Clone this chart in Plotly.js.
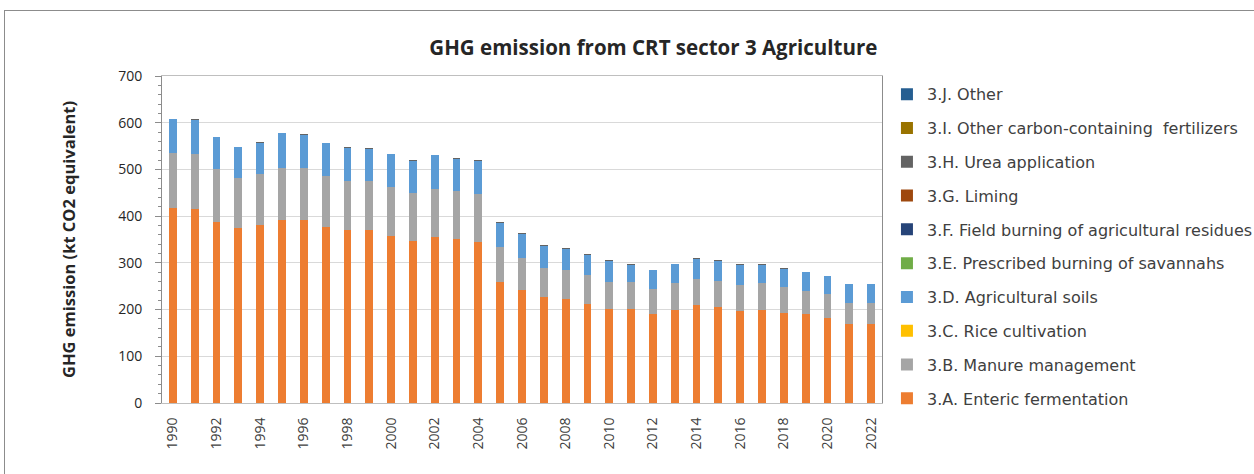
<!DOCTYPE html>
<html><head><meta charset="utf-8">
<script src="https://cdn.plot.ly/plotly-3.0.1.min.js"></script>
<style>
body{margin:0;padding:0;background:#fff;overflow:hidden;}
#chart{position:absolute;left:0;top:0;width:1254px;height:474px;}
#frame{position:absolute;left:4px;top:10px;width:1300px;height:500px;border:1px solid #8c8c8c;pointer-events:none;}
</style></head>
<body>
<div id="chart"></div>
<div id="frame"></div>
<script>
const years = ["1990","1991","1992","1993","1994","1995","1996","1997","1998","1999","2000","2001","2002","2003","2004","2005","2006","2007","2008","2009","2010","2011","2012","2013","2014","2015","2016","2017","2018","2019","2020","2021","2022"];
const tickYears = ["1990","1992","1994","1996","1998","2000","2002","2004","2006","2008","2010","2012","2014","2016","2018","2020","2022"];
const entericFermentation = [417,415,388,375,381,392,391,377,370,370,358,347,355,351,345,258,242,226,223,213,201,202,190,199,210,205,197,199,193,190,183,169,169];
const manureManagement = [118,118,112,107,110,112,112,109,106,106,105,102,103,103,102,75,68,64,62,60,59,56,53,57,56,57,56,57,55,50,50,46,46];
const riceCultivation = [0,0,0,0,0,0,0,0,0,0,0,0,0,0,0,0,0,0,0,0,0,0,0,0,0,0,0,0,0,0,0,0,0];
const agriculturalSoils = [72,73,69,66,66,73,71,70,70,68,69,70,72,69,72,53,52,47,45,44,45,38,41,41,43,43,43,40,39,40,38,39,39];
const savannahBurning = [0,0,0,0,0,0,0,0,0,0,0,0,0,0,0,0,0,0,0,0,0,0,0,0,0,0,0,0,0,0,0,0,0];
const fieldBurning = [0,0,0,0,0,0,0,0,0,0,0,0,0,0,0,0,0,0,0,0,0,0,0,0,0,0,0,0,0,0,0,0,0];
const liming = [0,0,0,0,0,0,0,0,0,0,0,0,0,0,0,0,0,0,0,0,0,0,0,0,0,0,0,0,0,0,0,0,0];
const ureaApplication = [1,1,1,1,1,1,1,1,1,1,1,1,1,1,1,1,1,1,1,1,1,1,1,1,1,1,1,1,1,1,1,1,1];
const otherCarbonFertilizers = [0,0,0,0,0,0,0,0,0,0,0,0,0,0,0,0,0,0,0,0,0,0,0,0,0,0,0,0,0,0,0,0,0];
const otherAgri = [0,0,0,0,0,0,0,0,0,0,0,0,0,0,0,0,0,0,0,0,0,0,0,0,0,0,0,0,0,0,0,0,0];

const seriesNames = ["3.A. Enteric fermentation","3.B. Manure management","3.C. Rice cultivation","3.D. Agricultural soils","3.E. Prescribed burning of savannahs","3.F. Field burning of agricultural residues","3.G. Liming","3.H. Urea application","3.I. Other carbon-containing  fertilizers","3.J. Other"];
const seriesValues = [entericFermentation,manureManagement,riceCultivation,agriculturalSoils,savannahBurning,fieldBurning,liming,ureaApplication,otherCarbonFertilizers,otherAgri];
const seriesColors = ["#ED7D31","#A5A5A5","#FFC000","#5B9BD5","#70AD47","#264478","#9E480E","#636363","#997300","#255E91"];

const traces = seriesNames.map((n,i)=>({
  type:'bar', name:n, x:years, y:seriesValues[i],
  marker:{color:seriesColors[i]}, legendgroup:'g'+i, legendrank:100-i
}));

const fontFam = '"Open Sans", "Noto Sans", sans-serif';
const layout = {
  width:1254, height:474,
  margin:{l:162, r:372, t:76, b:71},
  paper_bgcolor:'rgba(0,0,0,0)', plot_bgcolor:'#fff',
  barmode:'stack', bargap:0.64,
  font:{family:fontFam, color:'#404040', size:13},
  title:{text:'GHG emission from CRT sector 3 Agriculture', font:{family:fontFam, size:20.5, color:'#262626', weight:'bold'}, x:0.521, xref:'container', xanchor:'center', y:0.9, yref:'container', yanchor:'middle'},
  xaxis:{type:'category', tickmode:'array', tickvals:tickYears, ticktext:tickYears, tickangle:-90,
    tickfont:{size:14, color:'#404040'}, showline:true, linecolor:'#bfbfbf', mirror:true, showgrid:false,
    ticks:'', zeroline:false, ticklabelstandoff:8},
  yaxis:{range:[0,700], dtick:100, tickfont:{size:14, color:'#262626'}, showline:true, linecolor:'#8c8c8c', mirror:true,
    gridcolor:'#d9d9d9', ticks:'outside', ticklen:6, tickcolor:'#8c8c8c',
    minor:{dtick:20, ticks:'outside', ticklen:3, tickcolor:'#8c8c8c', showgrid:false},
    zeroline:false, ticklabelstandoff:10,
    title:{text:'GHG emission (kt CO2 equivalent)', font:{size:16.5, color:'#262626', weight:'bold'}, standoff:38}},
  legend:{traceorder:'grouped', xref:'container', yref:'container', x:0.7073, y:0.837, xanchor:'left', yanchor:'top',
    font:{family:'"DejaVu Sans", sans-serif', size:16, color:'#404040'}, tracegroupgap:10, itemwidth:30, maxheight:474, bgcolor:'rgba(0,0,0,0)'},
  showlegend:true
};
Plotly.newPlot('chart', traces, layout, {displayModeBar:false, staticPlot:true});
</script>
</body></html>
